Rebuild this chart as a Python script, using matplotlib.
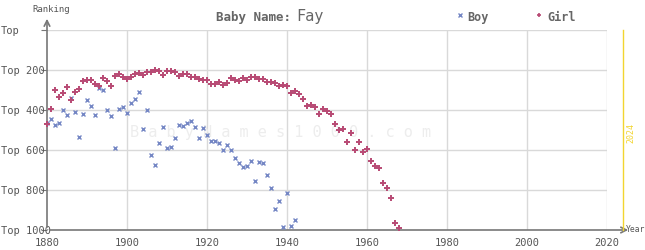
import matplotlib
matplotlib.use("Agg")
import matplotlib.pyplot as plt

# ranks
girl_years = list(range(1880, 1969))
girl_ranks = [470, 397, 302, 337, 317, 287, 352, 312, 297, 257,
              252, 252, 272, 282, 242, 257, 282, 232, 222, 237,
              247, 237, 222, 217, 227, 212, 212, 202, 207, 227,
              207, 207, 212, 232, 222, 222, 237, 237, 247, 252,
              252, 272, 272, 262, 277, 267, 242, 252, 257, 242,
              252, 237, 237, 247, 247, 262, 262, 267, 282, 277,
              282, 317, 307, 322, 347, 382, 377, 387, 422, 397,
              407, 422, 472, 502, 497, 562, 517, 602, 562, 612,
              597, 657, 682, 692, 767, 792, 842, 967, 992]

boy_years = list(range(1880, 1943))
boy_ranks = [467, 447, 477, 467, 402, 427, 342, 412, 537, 422,
             352, 382, 427, 292, 302, 402, 432, 592, 397, 387,
             417, 367, 347, 312, 497, 402, 627, 677, 567, 487,
             592, 587, 542, 477, 482, 467, 457, 487, 542, 492,
             527, 557, 557, 567, 602, 577, 602, 642, 667, 687,
             682, 657, 757, 662, 667, 727, 792, 897, 857, 987,
             817, 982, 952]

x_ticks = [1880, 1900, 1920, 1940, 1960, 1980, 2000, 2020]
y_ticks = [0, 200, 400, 600, 800, 1000]
y_labels = ["Top", "Top 200", "Top 400", "Top 600", "Top 800", "Top 1000"]

mono = "DejaVu Sans Mono"
text_col = "#555555"
axis_col = "#777777"
grid_col = "#d9d9d9"
girl_col = "#b84a74"
boy_col = "#7486c4"

fig = plt.figure(figsize=(6.45, 2.5), dpi=100)
ax = fig.add_axes([47 / 645, 20 / 250, 560 / 645, 200 / 250])
ax.set_xlim(1880, 2020)
ax.set_ylim(1000, 0)
for s in ax.spines.values():
    s.set_visible(False)

# grid
for x in x_ticks[1:]:
    ax.plot([x, x], [0, 1000], color=grid_col, lw=1, zorder=1)
for y in y_ticks[:-1]:
    ax.plot([1880, 2020], [y, y], color=grid_col, lw=1, zorder=1)

# watermark
ax.text(1938.5, 510, " ".join("BabyNames1000.com"), ha="center", va="center",
        fontsize=11, color="#ededed", family=mono, zorder=1)

# axes with arrows
ax.annotate("", xy=(1880, -70), xytext=(1880, 1000),
            arrowprops=dict(arrowstyle="->", color=axis_col, lw=1.2),
            annotation_clip=False, zorder=2)
ax.annotate("", xy=(2026, 1000), xytext=(1880, 1000),
            arrowprops=dict(arrowstyle="->", color=axis_col, lw=1.2),
            annotation_clip=False, zorder=2)

# 2024 marker
ax.plot([2024, 2024], [0, 1000], color="#f2d530", lw=1, clip_on=False, zorder=2)
ax.text(2026, 515, "2024", rotation=90, ha="center", va="center",
        fontsize=6, color="#f2d530", family=mono)

ax.plot(boy_years, boy_ranks, "x", color=boy_col, ms=3, mew=1, zorder=3)
ax.plot(girl_years, girl_ranks, "+", color=girl_col, ms=4, mew=1.4,
        zorder=4, clip_on=False)

ax.set_xticks(x_ticks)
ax.set_xticklabels([str(x) for x in x_ticks], family=mono, fontsize=7.5,
                   color=text_col)
ax.set_yticks(y_ticks)
ax.set_yticklabels(y_labels, family=mono, fontsize=7.5, color=text_col,
                   ha="left")
ax.tick_params(axis="y", length=4, color=axis_col, pad=29)
ax.tick_params(axis="x", length=0, pad=6)

fig.text(32 / 645, 1 - 9 / 250, "Ranking", family=mono, fontsize=6.5,
         color=text_col, va="center")
fig.text(626 / 645, 20 / 250, "Year", family=mono, fontsize=5.8,
         color=text_col, va="center")

fig.text(216 / 645, 1 - 17 / 250, "Baby Name:", family=mono, fontsize=9,
         fontweight="bold", color="#666666", va="center")
fig.text(296 / 645, 1 - 16 / 250, "Fay", family=mono, fontsize=11,
         color="#666666", va="center")

fig.lines.append(plt.Line2D([460 / 645], [1 - 15 / 250], marker="x", ms=3,
                            mew=1, color=boy_col, transform=fig.transFigure))
fig.text(467 / 645, 1 - 17 / 250, "Boy", family=mono, fontsize=8.5,
         fontweight="bold", color="#666666", va="center")
fig.lines.append(plt.Line2D([539 / 645], [1 - 15 / 250], marker="+", ms=3.5,
                            mew=1.2, color=girl_col, transform=fig.transFigure))
fig.text(547 / 645, 1 - 17 / 250, "Girl", family=mono, fontsize=8.5,
         fontweight="bold", color="#666666", va="center")

fig.savefig("out.png", dpi=100)
